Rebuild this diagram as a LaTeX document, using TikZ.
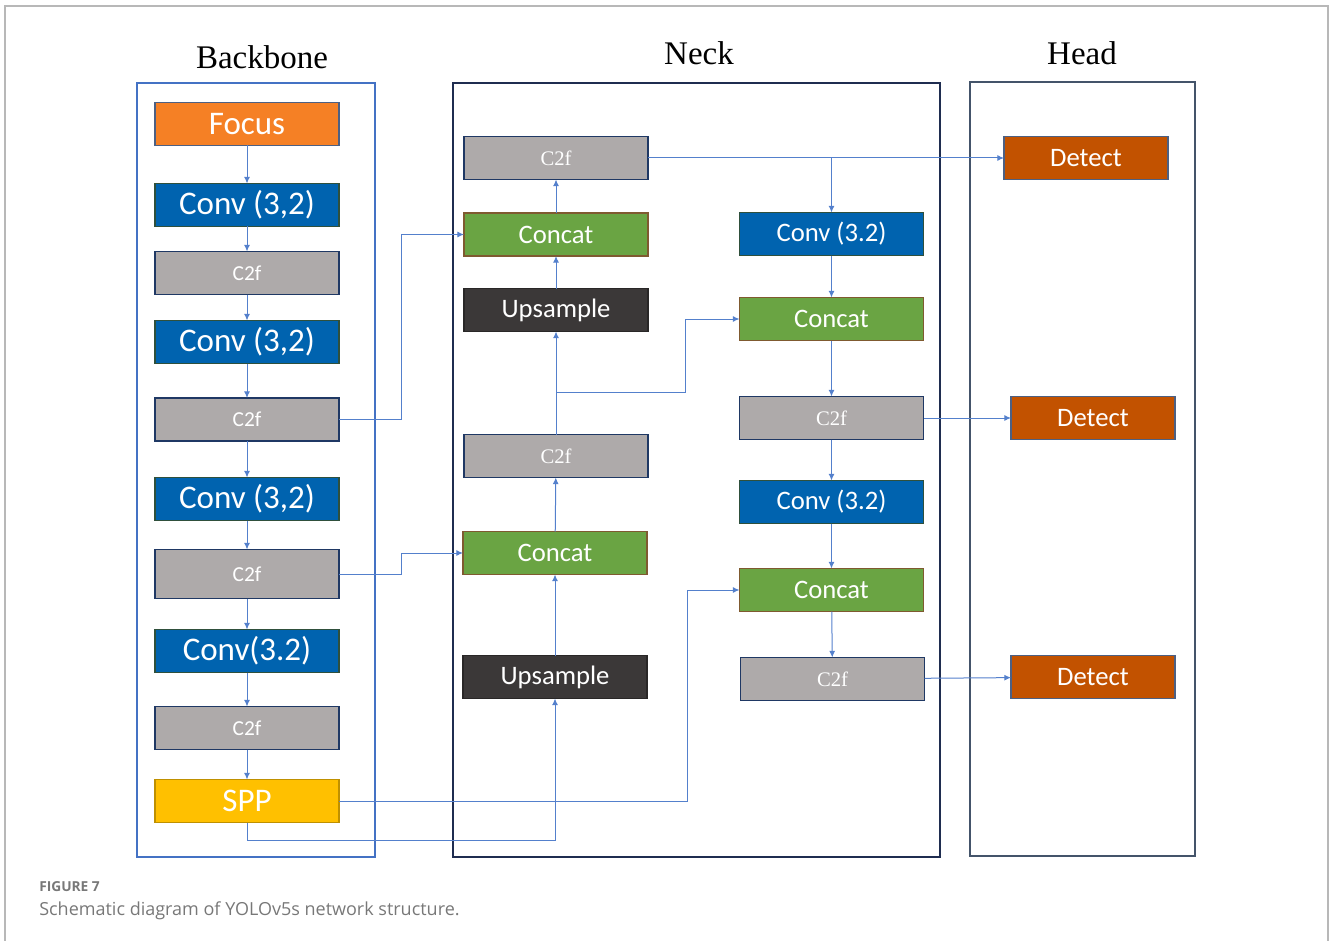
\documentclass[tikz,border=0pt]{standalone}
\usepackage{fontspec}
\setmainfont{Liberation Serif}
\newfontfamily\calibri{Carlito}
\newfontfamily\capfont{Open Sans}
\usetikzlibrary{arrows.meta,calc}

\definecolor{focusC}{RGB}{245,128,37}
\definecolor{convC}{RGB}{0,99,175}
\definecolor{grayC}{RGB}{174,170,170}
\definecolor{catC}{RGB}{106,164,67}
\definecolor{upC}{RGB}{59,56,56}
\definecolor{sppC}{RGB}{255,192,0}
\definecolor{detC}{RGB}{194,82,0}
\definecolor{lineC}{RGB}{84,128,204}
\definecolor{bbFrame}{RGB}{68,114,196}
\definecolor{neckFrame}{RGB}{31,45,80}
\definecolor{headFrame}{RGB}{68,84,106}
\definecolor{navyEdge}{RGB}{31,56,100}
\definecolor{greenEdge}{RGB}{47,80,60}
\definecolor{brownEdge}{RGB}{127,90,48}
\definecolor{capC}{RGB}{120,120,120}

\tikzset{
  blk/.style={draw, line width=1pt, inner sep=0pt, outer sep=0pt,
    text=white, minimum width=138pt, minimum height=32.25pt},
  bigtxt/.style={font=\calibri\fontsize{24.75}{28}\selectfont},
  midtxt/.style={font=\calibri\fontsize{20}{24}\selectfont},
  smalltxt/.style={font=\calibri\fontsize{16}{19}\selectfont},
  sertxt/.style={font=\fontsize{15.5}{18}\selectfont},
  focusbox/.style={blk, fill=focusC, draw=navyEdge!80, bigtxt},
  convbox/.style={blk, fill=convC, draw=greenEdge},
  grbox/.style={blk, fill=grayC, draw=navyEdge},
  catbox/.style={blk, fill=catC, draw=brownEdge, midtxt},
  upbox/.style={blk, fill=upC, draw=upC!70!black, midtxt},
  sppbox/.style={blk, fill=sppC, draw=sppC!75!black, bigtxt},
  detbox/.style={blk, fill=detC, draw=navyEdge!80, midtxt, minimum width=123pt},
  arr/.style={draw=lineC, line width=0.75pt, -{Latex[length=5pt,width=4.5pt]}},
  frame/.style={line width=0.85pt},
  title/.style={font=\fontsize{24.75}{28}\selectfont},
  captxt/.style={anchor=base west, inner sep=0pt, text=capC},
}

\begin{document}
\begin{tikzpicture}[x=0.75pt,y=-0.75pt]
\useasboundingbox (0,0) rectangle (1330,941);

% page frame
\draw[black!28, line width=1.5pt] (5,941) -- (5,6) -- (1328,6) -- (1328,941);

% section frames
\draw[frame, bbFrame] (137,83) rectangle (375,857);
\draw[frame, neckFrame] (453,83) rectangle (940,857);
\draw[frame, headFrame] (970,82) rectangle (1195,856);

% section titles
\node[title] (tbb) at (262,57) {Backbone};
\node[title] (tneck) at (699,53) {Neck};
\node[title] (thead) at (1082,53) {Head};

% backbone
\node[focusbox] (focus) at (247,124) {Focus};
\node[convbox, bigtxt] (conv1) at (247,205) {Conv (3,2)};
\node[grbox, smalltxt] (c2f1) at (247,273) {C2f};
\node[convbox, bigtxt] (conv2) at (247,342) {Conv (3,2)};
\node[grbox, smalltxt] (c2f2) at (247,419.5) {C2f};
\node[convbox, bigtxt] (conv3) at (247,499) {Conv (3,2)};
\node[grbox, smalltxt, minimum height=36.75pt] (c2f3) at (247,574) {C2f};
\node[convbox, bigtxt] (conv4) at (247,651) {Conv(3.2)};
\node[grbox, smalltxt] (c2f4) at (247,728) {C2f};
\node[sppbox] (spp) at (247,801) {SPP};

% neck, left column
\node[grbox, sertxt] (nc2fa) at (556,158) {C2f};
\node[catbox] (ncata) at (556,234.5) {Concat};
\node[upbox] (nupa) at (556,310) {Upsample};
\node[grbox, sertxt] (nc2fb) at (556,456) {C2f};
\node[catbox] (ncatb) at (555,553) {Concat};
\node[upbox] (nupb) at (555,677) {Upsample};

% neck, right column
\node[convbox, midtxt] (nconva) at (831.5,234) {Conv (3.2)};
\node[catbox] (ncatc) at (831.5,319) {Concat};
\node[grbox, sertxt] (nc2fc) at (831.5,418) {C2f};
\node[convbox, midtxt] (nconvb) at (831.5,502) {Conv (3.2)};
\node[catbox] (ncatd) at (831.5,590) {Concat};
\node[grbox, sertxt] (nc2fd) at (832.5,679) {C2f};

% head
\node[detbox] (deta) at (1086,158) {Detect};
\node[detbox] (detb) at (1093,418) {Detect};
\node[detbox] (detc) at (1093,677) {Detect};

% backbone flow
\draw[arr] (focus) -- (conv1);
\draw[arr] (conv1) -- (c2f1);
\draw[arr] (c2f1) -- (conv2);
\draw[arr] (conv2) -- (c2f2);
\draw[arr] (c2f2) -- (conv3);
\draw[arr] (conv3) -- (c2f3);
\draw[arr] (c2f3) -- (conv4);
\draw[arr] (conv4) -- (c2f4);
\draw[arr] (c2f4) -- (spp);

% lateral links into the neck
\draw[arr] (c2f2.east) -- ++(62,0) |- (ncata.west);
\draw[arr] (c2f3.east) -- ++(62,0) |- (ncatb.west);
\draw[arr] (spp.east) -- ++(348,0) |- (ncatd.west);
\coordinate (sppdrop) at (555,840);
\draw[arr] (spp.south) |- (sppdrop) -- (nupb.south);

% neck, top-down path
\draw[arr] (nupb) -- (ncatb);
\draw[arr] (ncatb) -- (nc2fb);
\draw[arr] (nc2fb) -- (nupa);
\coordinate (brmid) at (556,392);
\draw[arr] (brmid) -- ++(129,0) |- (ncatc.west);
\draw[arr] (nupa) -- (ncata);
\draw[arr] (ncata) -- (nc2fa);

% neck, bottom-up path
\draw[arr] (nc2fa) -- (deta);
\coordinate (brtop) at (831.5,158);
\draw[arr] (brtop) -- (nconva);
\draw[arr] (nconva) -- (ncatc);
\draw[arr] (ncatc) -- (nc2fc);
\draw[arr] (nc2fc) -- (detb);
\draw[arr] (nc2fc) -- (nconvb);
\draw[arr] (nconvb) -- (ncatd);
\draw[arr] (ncatd) -- (nc2fd);
\draw[arr] (nc2fd) -- (detc);

% caption
\node[captxt, font=\capfont\bfseries\fontsize{10.3}{12}\selectfont] (figno) at (39,891) {FIGURE 7};
\node[captxt, font=\capfont\fontsize{13.5}{16}\selectfont] (figcap) at (39,915) {Schematic diagram of YOLOv5s network structure.};
\end{tikzpicture}
\end{document}
